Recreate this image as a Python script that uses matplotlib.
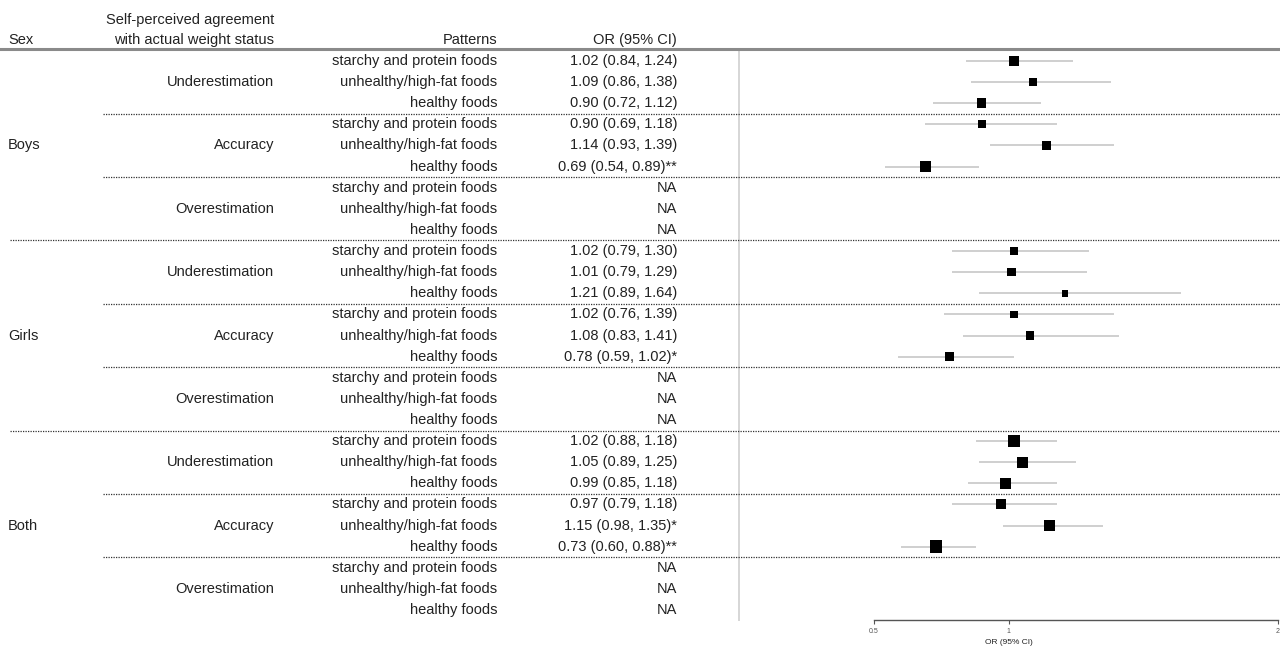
import numpy as np
import matplotlib
matplotlib.use('Agg')
import matplotlib.pyplot as plt
from matplotlib.transforms import blended_transform_factory

plt.rcParams['font.family'] = ['Liberation Sans', 'DejaVu Sans']

# ---- data ----
sexes = ['Boys', 'Girls', 'Both']
agreements = ['Underestimation', 'Accuracy', 'Overestimation']
patterns = ['starchy and protein foods', 'unhealthy/high-fat foods', 'healthy foods']

# one entry per row (sex > agreement > pattern); None = NA
est = [1.02, 1.09, 0.90, 0.90, 1.14, 0.69, None, None, None,
       1.02, 1.01, 1.21, 1.02, 1.08, 0.78, None, None, None,
       1.02, 1.05, 0.99, 0.97, 1.15, 0.73, None, None, None]
lower = [0.84, 0.86, 0.72, 0.69, 0.93, 0.54, None, None, None,
         0.79, 0.79, 0.89, 0.76, 0.83, 0.59, None, None, None,
         0.88, 0.89, 0.85, 0.79, 0.98, 0.60, None, None, None]
upper = [1.24, 1.38, 1.12, 1.18, 1.39, 0.89, None, None, None,
         1.30, 1.29, 1.64, 1.39, 1.41, 1.02, None, None, None,
         1.18, 1.25, 1.18, 1.18, 1.35, 0.88, None, None, None]
stars = ['', '', '', '', '', '**', '', '', '',
         '', '', '', '', '', '*', '', '', '',
         '', '', '', '', '*', '**', '', '', '']
# box weight (drawn side length in px)
box = [9.5, 7.8, 9.5, 7.8, 9, 11, 0, 0, 0,
       8.3, 8.3, 6.5, 7.3, 8.5, 9, 0, 0, 0,
       12, 11, 11, 10, 11, 12.5, 0, 0, 0]
xticks = [0.5, 1, 2]

W, H = 1280, 648
fig = plt.figure(figsize=(W / 100, H / 100), dpi=100)
ax = fig.add_axes([0, 0, 1, 1])

# pixel layout -> data limits
row0, row_h = 61, 21.115
px_half, px_two = 874, 1278
scale = (px_two - px_half) / 1.5
ax.set_xlim(0.5 - px_half / scale, 2 + (W - px_two) / scale)
ax.set_ylim(26 + (H - 610) / row_h, -row0 / row_h)

def fx(px):
    return px / W

tr = blended_transform_factory(fig.transFigure, ax.transData)
txt = dict(fontsize=10.5, color='#222222', va='center', transform=tr)

n = len(est)
rows = np.arange(n)

# header
ax.text(fx(274), -1.94, 'Self-perceived agreement', ha='right', **txt)
ax.text(fx(274), -1.0, 'with actual weight status', ha='right', **txt)
ax.text(fx(8), -1.0, 'Sex', ha='left', **txt)
ax.text(fx(497), -1.0, 'Patterns', ha='right', **txt)
ax.text(fx(677), -1.0, 'OR (95% CI)', ha='right', **txt)
ax.axhline(-0.57, color='#8a8a8a', lw=2.2)

# text columns
for i in range(n):
    ax.text(fx(497), i, patterns[i % 3], ha='right', **txt)
    if est[i] is None:
        lab = 'NA'
    else:
        lab = f'{est[i]:.2f} ({lower[i]:.2f}, {upper[i]:.2f}){stars[i]}'
    ax.text(fx(677), i, lab, ha='right', **txt)
for g, s in enumerate(sexes):
    ax.text(fx(8), g * 9 + 4, s, ha='left', **txt)
    for a, ag in enumerate(agreements):
        ax.text(fx(274), g * 9 + a * 3 + 1, ag, ha='right', **txt)

# separators
for k in range(1, n // 3):
    y = k * 3 - 0.5
    start = 10 if k % 3 == 0 else 103
    ax.axhline(y, xmin=fx(start), xmax=1, color='#333333', lw=0.9,
               ls=(0, (1, 1)))

# reference line
ax.vlines(0, -0.57, 26.5, color='#d0d0d0', lw=1.2, zorder=1)

# CIs and boxes
ok = [i for i in range(n) if est[i] is not None]
ax.hlines(rows[ok], [lower[i] for i in ok], [upper[i] for i in ok],
          color='#cccccc', lw=1.3, zorder=2)
ax.scatter([est[i] for i in ok], rows[ok], marker='s',
           s=[(box[i] * 0.72) ** 2 for i in ok], color='black',
           linewidths=0, zorder=3)

# x axis
for side in ['top', 'left', 'right']:
    ax.spines[side].set_visible(False)
ax.spines['bottom'].set_position(('data', 26.47))
ax.spines['bottom'].set_bounds(0.5, 2)
ax.spines['bottom'].set_color('#555555')
ax.spines['bottom'].set_linewidth(1)
ax.set_xticks(xticks)
ax.set_xticklabels([f'{t:g}' for t in xticks])
ax.tick_params(axis='x', direction='out', length=3, width=0.8,
               colors='#555555', labelsize=5, pad=3)
ax.set_yticks([])
ax.text(1, 27.56, 'OR (95% CI)', ha='center', va='center', fontsize=6,
        color='#222222')

fig.savefig('out.png', dpi=100)
